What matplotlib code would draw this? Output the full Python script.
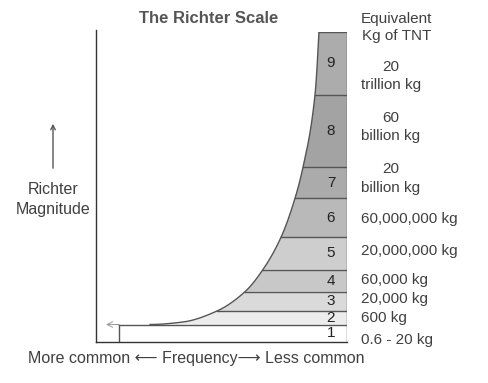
import numpy as np
import matplotlib
matplotlib.use("Agg")
import matplotlib.pyplot as plt

plt.rcParams['font.family'] = ['Liberation Sans', 'DejaVu Sans']

# ---- data ----
magnitudes = [1, 2, 3, 4, 5, 6, 7, 8, 9]
tnt_labels = ["0.6 - 20 kg", "600 kg", "20,000 kg", "60,000 kg",
              "20,000,000 kg", "60,000,000 kg", "20\nbillion kg",
              "60\nbillion kg", "20\ntrillion kg"]
# band edges (height units, bottom = 0)
band_edges = [0, 17.5, 31, 50.3, 72.5, 104.7, 143.7, 174.7, 247, 310.5]
# frequency curve points (x = frequency units from left axis, y = height units)
curve_x = [54, 87, 121, 149, 167, 185, 199, 207, 219, 223]
curve_y = [17.5, 20, 31, 50.3, 72.5, 104.7, 143.7, 174.7, 247, 310.5]
band_colors = ["#ffffff", "#ececec", "#dadada", "#c8c8c8", "#cecece",
               "#b9b9b9", "#ababab", "#a3a3a3", "#acacac"]
x_right = 251
box_left = 23

W, H = 489, 383
fig = plt.figure(figsize=(W / 100, H / 100), dpi=100)
ax = fig.add_axes([96 / W, (H - 342) / H, 251 / W, 310.5 / H])
ax.set_xlim(0, x_right)
ax.set_ylim(0, band_edges[-1])
ax.axis('off')


def pchip(x, y, xn):
    x = np.asarray(x, float); y = np.asarray(y, float)
    h = np.diff(x); d = np.diff(y) / h
    n = len(x)
    m = np.zeros(n)
    for k in range(1, n - 1):
        if d[k - 1] * d[k] > 0:
            w1 = 2 * h[k] + h[k - 1]
            w2 = h[k] + 2 * h[k - 1]
            m[k] = (w1 + w2) / (w1 / d[k - 1] + w2 / d[k])
    m[0] = 0.0
    m[-1] = ((2 * h[-1] + h[-2]) * d[-1] - h[-1] * d[-2]) / (h[-1] + h[-2])
    idx = np.clip(np.searchsorted(x, xn) - 1, 0, n - 2)
    t = (xn - x[idx]) / h[idx]
    h00 = 2 * t**3 - 3 * t**2 + 1
    h10 = t**3 - 2 * t**2 + t
    h01 = -2 * t**3 + 3 * t**2
    h11 = t**3 - t**2
    return h00 * y[idx] + h10 * h[idx] * m[idx] + h01 * y[idx + 1] + h11 * h[idx] * m[idx + 1]


xd = np.linspace(curve_x[0], curve_x[-1], 800)
yd = pchip(curve_x, curve_y, xd)

line_c = "#555555"
# bands 2..9
for i in range(1, len(magnitudes)):
    lo, hi = band_edges[i], band_edges[i + 1]
    xl = np.interp(lo, yd, xd)
    xh = np.interp(hi, yd, xd)
    mask = (yd > lo) & (yd < hi)
    px = np.concatenate([[xl], xd[mask], [xh], [x_right, x_right]])
    py = np.concatenate([[lo], yd[mask], [hi], [hi, lo]])
    ax.fill(px, py, color=band_colors[i], lw=0, zorder=1)
    ax.plot([xh, x_right], [hi, hi], color=line_c, lw=1, zorder=3)
# band 1 box
ax.fill([box_left, x_right, x_right, box_left],
        [band_edges[0], band_edges[0], band_edges[1], band_edges[1]],
        color=band_colors[0], lw=0, zorder=1)
ax.plot([box_left, x_right], [band_edges[1]] * 2, color=line_c, lw=1, zorder=3)
ax.plot([box_left, box_left], [band_edges[0], band_edges[1]], color=line_c, lw=1, zorder=3)
# curve
ax.plot(xd, yd, color=line_c, lw=1, zorder=3)
# right edge
ax.plot([x_right, x_right], [band_edges[0], band_edges[-1]], color=line_c, lw=1, zorder=3)
# axis lines
ax.plot([0, 0], [0, band_edges[-1] + 2], color="#333333", lw=1, clip_on=False, zorder=3)
ax.plot([0, x_right], [0, 0], color="#333333", lw=1, clip_on=False, zorder=3)
# small left arrow
ax.annotate("", xy=(10, band_edges[1]), xytext=(box_left, band_edges[1]),
            arrowprops=dict(arrowstyle="->", color="#999999", lw=0.7,
                            shrinkA=0, shrinkB=0))

# magnitude numbers
for i, m in enumerate(magnitudes):
    yc = (band_edges[i] + band_edges[i + 1]) / 2
    ax.text(235, yc, str(m), ha='center', va='center', fontsize=11,
            color="#222222", zorder=4)


def fx(p):
    return p / W


def fy(p):
    return 1 - p / H


txt_c = "#404040"
# TNT labels (layout: pixel centers)
tnt_y = [340, 317.7, 298.5, 280, 251.5, 219.5, 178.5, 127, 76]
for lab, yy in zip(tnt_labels, tnt_y):
    fig.text(fx(361), fy(yy), lab, ha='left', va='center', fontsize=11,
             color=txt_c, multialignment='center', linespacing=1.4)
fig.text(fx(361), fy(27.5), "Equivalent\nKg of TNT", ha='left', va='center',
         fontsize=11, color=txt_c, multialignment='center', linespacing=1.35)

fig.text(fx(209), fy(18.5), "The Richter Scale", ha='center', va='center',
         fontsize=12, fontweight='bold', color="#555555")

fig.text(fx(53), fy(199.5), "Richter\nMagnitude", ha='center', va='center',
         fontsize=11.5, color=txt_c, multialignment='center', linespacing=1.35)
fig.add_artist(matplotlib.patches.FancyArrowPatch(
    (fx(53), fy(171)), (fx(53), fy(121)), transform=fig.transFigure,
    arrowstyle="->", color="#555555", lw=1, mutation_scale=8))

fig.text(fx(196.5), fy(358.5), "More common \u27f5 Frequency\u27f6 Less common",
         ha='center', va='center', fontsize=11.5, color=txt_c)

fig.savefig("out.png", dpi=100)
